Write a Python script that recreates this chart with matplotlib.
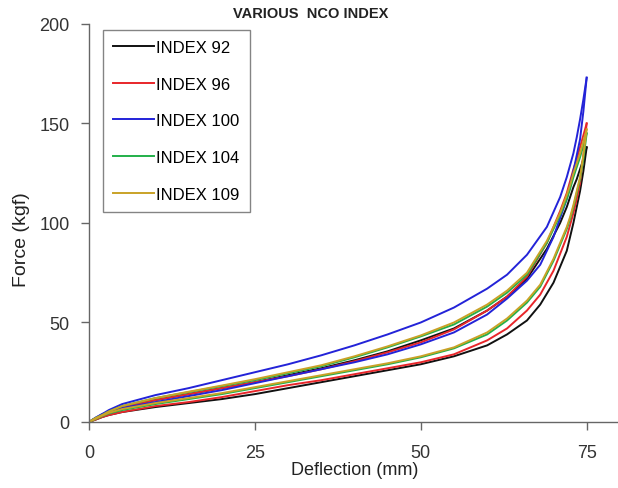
import matplotlib.pyplot as plt

# deflection (mm) sampling points
x_up = [0, 1, 2, 3, 5, 10, 15, 20, 25, 30, 35, 40, 45, 50, 55, 60, 63, 66, 69, 71,
        72, 72.5, 73, 73.5, 74, 74.5, 75]
x_down = [75, 74.5, 74, 73.5, 73, 72.5, 72, 70, 68, 66, 63, 60, 55, 50, 45, 40, 35,
          30, 25, 20, 15, 10, 5, 3, 2, 1, 0]

labels = ["INDEX 92", "INDEX 96", "INDEX 100", "INDEX 104", "INDEX 109"]
colors = ["#111111", "#e8262a", "#2323d8", "#22b04a", "#c9a227"]

# loading curves (force, kgf)
load_92 = [0, 1.8, 3.3, 5, 7.5, 11, 14, 17, 20, 23.5, 27, 31, 35.5, 41, 47, 56, 63, 72, 87, 100,
           108, 113, 118, 122, 127, 132, 138]
load_96 = [0, 1.8, 3.3, 5, 7.5, 11, 14, 17, 20, 23, 26.5, 30.5, 35, 40, 46.5, 56, 63, 73, 90, 106,
           115, 121, 127, 132, 138, 144, 150]
load_100 = [0, 2.2, 4, 6, 9, 13.5, 17, 21, 25, 29, 33.5, 38.5, 44, 50, 57.5, 67, 74, 84, 98, 113,
            123, 129, 135, 143, 152, 162, 173]
load_104 = [0, 2, 3.5, 5.3, 8, 12, 15, 18, 21, 24.5, 28, 32.5, 37.5, 43, 49, 58, 65, 74, 90, 104,
            112, 117, 123, 128, 133, 139, 145]
load_109 = [0, 2, 3.5, 5.3, 8, 12, 15.2, 18.3, 21.5, 25, 28.5, 33, 38, 43.5, 50, 59, 66, 75, 91, 105,
            114, 119, 125, 130, 135, 141, 147]

# unloading curves (force, kgf)
unload_92 = [138, 126, 116, 108, 100, 93, 86, 70, 59, 51, 44, 38.5, 33, 29, 26, 23, 20,
             17, 14, 11.5, 9.5, 7.5, 5, 3.5, 2.5, 1.2, 0]
unload_96 = [150, 134, 120, 112, 105, 99, 93, 76, 64, 56, 47, 41, 34, 30, 27, 24, 21,
             18.5, 15.5, 12.5, 10, 8, 5, 3.5, 2.5, 1.2, 0]
unload_100 = [173, 156, 142, 134, 126, 119, 112, 93, 79, 71, 62, 54, 45, 39, 34, 30, 26.5,
              23, 19.5, 16, 13, 10, 7, 5.2, 4, 2, 0]
unload_104 = [145, 132, 122, 115, 108, 102, 97, 81, 68, 60, 51, 44, 37, 32.5, 29, 26, 23,
              20, 17, 14, 11.5, 9, 6, 4.3, 3, 1.5, 0]
unload_109 = [147, 134, 123, 116, 109, 103, 98, 82, 69, 61, 52, 45, 37.5, 33, 29.5, 26.5, 23.5,
              20.5, 17.5, 14.5, 12, 9.5, 6.5, 4.6, 3.2, 1.6, 0]

loads = [load_92, load_96, load_100, load_104, load_109]
unloads = [unload_92, unload_96, unload_100, unload_104, unload_109]

plt.rcParams["font.family"] = ["Liberation Sans", "DejaVu Sans"]

fig = plt.figure(figsize=(6.18, 4.89), dpi=100)
ax = fig.add_axes([0.144, 0.135, 0.859, 0.814])

for lab, col, up, down in zip(labels, colors, loads, unloads):
    ax.plot(x_up, up, color=col, lw=1.4, label=lab)
    ax.plot(x_down, down, color=col, lw=1.4)

ax.set_xlim(0, 80)
ax.set_ylim(0, 200)
ax.set_xticks([0, 25, 50, 75])
ax.set_yticks([0, 50, 100, 150, 200])
ax.spines["top"].set_visible(False)
ax.spines["right"].set_visible(False)
for s in ["left", "bottom"]:
    ax.spines[s].set_color("#666666")
    ax.spines[s].set_linewidth(1.0)
ax.tick_params(direction="out", length=6, width=1, colors="#666666",
               labelcolor="#333333", labelsize=13)
ax.tick_params(axis="x", pad=10)
ax.tick_params(axis="y", pad=8)

ax.set_xlabel("Deflection (mm)", fontsize=13, labelpad=0, color="#222222")
ax.set_ylabel("Force (kgf)", fontsize=14, color="#222222")
ax.yaxis.set_label_coords(-0.112, 0.46)
fig.text(0.502, 0.972, "VARIOUS  NCO INDEX", ha="center", va="center",
         fontsize=10.5, fontweight="bold", color="#222222")

leg = ax.legend(loc="upper left", bbox_to_anchor=(0.026, 0.985), borderaxespad=0,
                fontsize=12, frameon=True, fancybox=False, edgecolor="#666666",
                handlelength=2.5, handletextpad=0.1, labelspacing=1.3,
                borderpad=0.6)
leg.get_frame().set_linewidth(1.0)

fig.savefig("out.png", dpi=100)
